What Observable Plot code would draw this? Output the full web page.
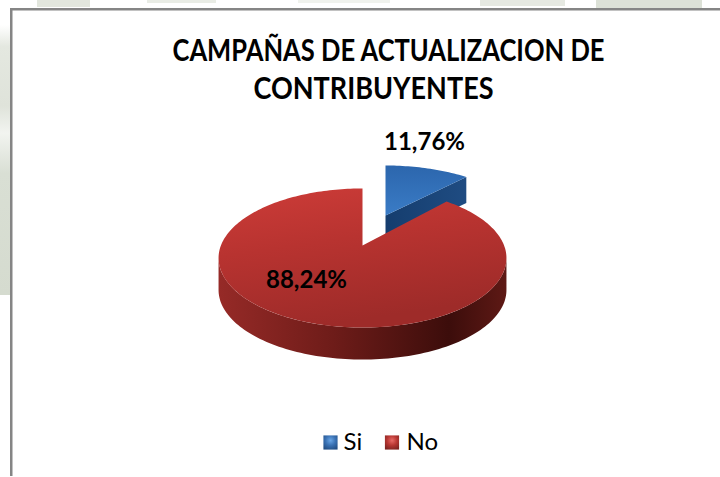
<!DOCTYPE html>
<html>
<head>
<meta charset="utf-8">
<style>
html,body{margin:0;padding:0;background:#fff;width:720px;height:477px;overflow:hidden}
#wrap{position:relative;width:720px;height:477px;
 background-repeat:no-repeat;
 background-image:
  linear-gradient(#e2e6dd,#e2e6dd),linear-gradient(#e9ece5,#e9ece5),linear-gradient(#f0f2ed,#f0f2ed),
  linear-gradient(#e6e9e2,#e6e9e2),linear-gradient(#dce1d7,#dce1d7),
  linear-gradient(180deg,#fff 0,#e4e8e0 8%,#dfe3da 30%,#f2f4f0 40%,#d9dfd4 55%,#d5dbcf 100%);
 background-size:53px 7px,69px 3px,92px 3px,85px 6px,106px 8px,10px 270px;
 background-position:37px 0,147px 0,298px 0,480px 0,596px 0,0 25px;}
svg{display:block}
</style>
<script src="https://cdn.jsdelivr.net/npm/d3@7"></script>
<script src="https://cdn.jsdelivr.net/npm/@observablehq/plot@0.6"></script>
</head>
<body>
<div id="wrap"></div>
<script>
const categories = ["Si", "No"];
const shares = [11.76, 88.24];
const titleLines = ["CAMPAÑAS DE ACTUALIZACION DE", "CONTRIBUYENTES"];
const labelTexts = shares.map(v => v.toFixed(2).replace(".", ",") + "%");

// Layout of the tilted disc (each slice is exploded from its own apex)
const tilt = 0.18;
const disc = {
  Si: {cx: 385, cy: 215, a: 59, b: 136, depth: 26},
  No: {cx: 362, cy: 245, a: 67.3, b: 141.6, depth: 32}
};
const project = (d, th, r = 1, drop = 0) => {
  const u = Math.sin(th) * r, v = Math.cos(th) * r, w = 1 + tilt * v;
  return {x: d.cx + d.b * u / w, y: d.cy - d.a * v / w + drop};
};
const arcs = d3.pie().sort(null)(shares);
const sweep = (d, a0, a1, drop = 0) => {
  const n = Math.max(2, Math.ceil(Math.abs(a1 - a0) * 40));
  return d3.range(n + 1).map(i => project(d, a0 + (a1 - a0) * i / n, 1, drop));
};

const siArc = arcs[0], noArc = arcs[1];
const siTop = [{x: disc.Si.cx, y: disc.Si.cy}, ...sweep(disc.Si, siArc.startAngle, siArc.endAngle)];
const siEdge = project(disc.Si, siArc.endAngle);
const siWall = [
  {x: disc.Si.cx, y: disc.Si.cy},
  siEdge,
  {x: siEdge.x, y: siEdge.y + disc.Si.depth},
  {x: disc.Si.cx, y: disc.Si.cy + disc.Si.depth}
];
const noTop = [{x: disc.No.cx, y: disc.No.cy}, ...sweep(disc.No, noArc.startAngle, noArc.endAngle)];
const wallA = Math.acos(-tilt);
const noWall = [
  ...sweep(disc.No, wallA, 2 * Math.PI - wallA),
  ...sweep(disc.No, 2 * Math.PI - wallA, wallA, disc.No.depth)
];

const grad = (id, x2, y2, stops) => `<linearGradient id="${id}" x1="0" y1="0" x2="${x2}" y2="${y2}">` +
  stops.map(([o, c]) => `<stop offset="${o}" stop-color="${c}"/>`).join("") + `</linearGradient>`;
const defs = () => {
  const g = document.createElementNS("http://www.w3.org/2000/svg", "g");
  g.innerHTML = `<defs>` +
    grad("redTop", 0.3, 1, [[0, "#cd3c38"], [0.45, "#b83330"], [1, "#9e2b29"]]) +
    grad("redWall", 1, 0, [[0, "#962a27"], [0.4, "#6e1c19"], [0.8, "#3c0d0b"], [1, "#5e1915"]]) +
    grad("blueTop", 0, 1, [[0, "#2c66ad"], [1, "#3a7cc6"]]) +
    grad("blueWall", 1, 0, [[0, "#153d6e"], [1, "#1f4c82"]]) +
    `<radialGradient id="swSi" cx="0.5" cy="0.35" r="0.7"><stop offset="0" stop-color="#6aa6e6"/><stop offset="0.5" stop-color="#3a72b4"/><stop offset="1" stop-color="#234f85"/></radialGradient>` +
    `<radialGradient id="swNo" cx="0.5" cy="0.35" r="0.7"><stop offset="0" stop-color="#e86a66"/><stop offset="0.5" stop-color="#b83733"/><stop offset="1" stop-color="#7d2421"/></radialGradient>` +
    `</defs>`;
  return g;
};

const poly = (pts, fill) => Plot.line(pts, {x: "x", y: "y", fill, stroke: "none"});
const font = "Lato, Carlito, Calibri, sans-serif";

const panel = [{x1: 11, x2: 720, y1: 9, y2: 477}];
const frameLines = [
  {x1: 10, x2: 12.5, y1: 8, y2: 476},
  {x1: 10, x2: 720, y1: 8, y2: 10.5}
];
const labelRows = [
  {t: labelTexts[0], x: 424, y: 142},
  {t: labelTexts[1], x: 306, y: 279.5}
];
const titleRows = [
  {t: titleLines[0], x: 388, y: 50.5, w: 432},
  {t: titleLines[1], x: 373, y: 89, w: 240}
];
const legendRows = [
  {c: categories[0], sx: 330, tx: 343, fill: "url(#swSi)"},
  {c: categories[1], sx: 391.5, tx: 406, fill: "url(#swNo)"}
].map(d => ({...d, y: 442}));

// Condense the bold title to the measured width of each line.
const fitWidth = (index, scales, values, dims, context, next) => {
  const g = next(index, scales, values, dims, context);
  d3.select(g).selectAll("text").each(function (_, j) {
    this.setAttribute("textLength", titleRows[index[j]].w);
    this.setAttribute("lengthAdjust", "spacingAndGlyphs");
  });
  return g;
};

const chart = Plot.plot({
  width: 720, height: 477, margin: 0,
  style: {background: "transparent", fontFamily: font},
  x: {type: "linear", domain: [0, 720], range: [0, 720], axis: null},
  y: {type: "linear", domain: [0, 477], range: [0, 477], axis: null},
  marks: [
    defs,
    Plot.rect(panel, {x1: "x1", x2: "x2", y1: "y1", y2: "y2", fill: "#fff"}),
    Plot.rect(frameLines, {x1: "x1", x2: "x2", y1: "y1", y2: "y2", fill: "#858585"}),
    poly(siWall, "url(#blueWall)"),
    poly(siTop, "url(#blueTop)"),
    poly(noWall, "url(#redWall)"),
    poly(noTop, "url(#redTop)"),
    Plot.text(titleRows, {x: "x", y: "y", text: "t", fontSize: 30, fontWeight: 700, fill: "#000", fontFamily: font, render: fitWidth}),
    Plot.text(labelRows, {x: "x", y: "y", text: "t", fontSize: 24, fontWeight: 700, fill: "#000", fontFamily: font}),
    Plot.dot(legendRows, {x: "sx", y: "y", symbol: "square", r: 8, fill: "fill", stroke: "none"}),
    Plot.text(legendRows, {x: "tx", y: "y", text: "c", fontSize: 24, textAnchor: "start", fill: "#000", fontFamily: font})
  ]
});
document.getElementById("wrap").appendChild(chart);
</script>
</body>
</html>
